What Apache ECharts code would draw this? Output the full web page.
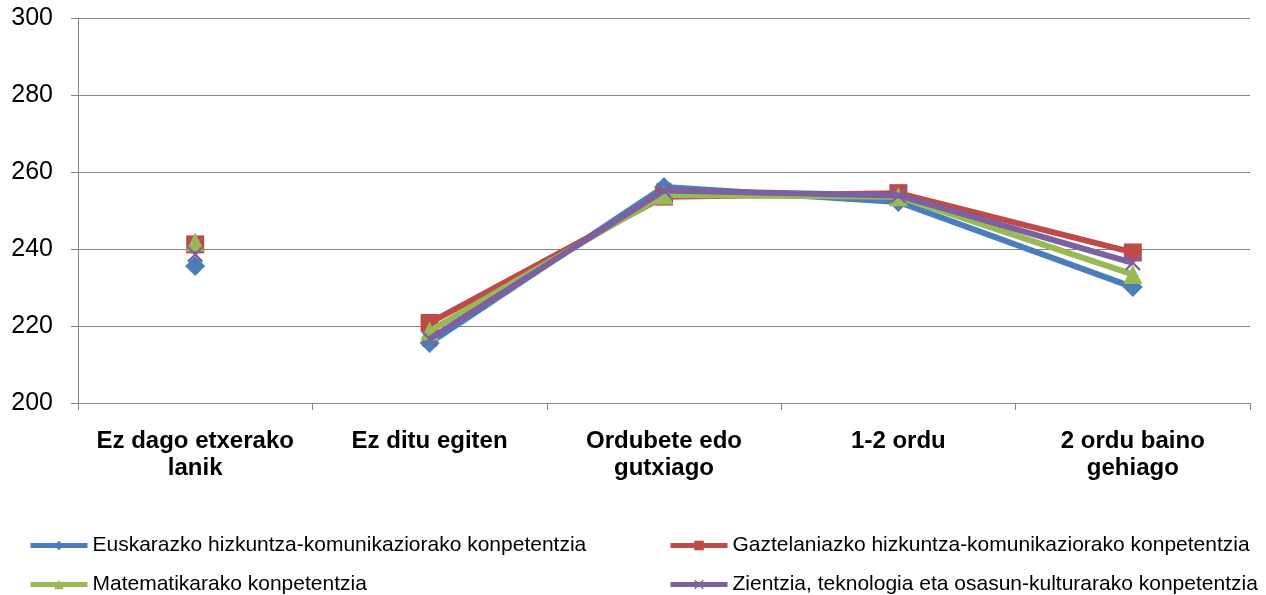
<!DOCTYPE html>
<html>
<head>
<meta charset="utf-8">
<script src="https://cdn.jsdelivr.net/npm/echarts@6/dist/echarts.min.js"></script>
<style>
    html, body { margin: 0; padding: 0; background: #fff; }
    #chart { width: 1266px; height: 595px; }
</style>
</head>
<body>
<div id="chart"></div>
<script>
// kategoriak eta balioak
var categories = ['Ez dago etxerako\nlanik', 'Ez ditu egiten', 'Ordubete edo\ngutxiago', '1-2 ordu', '2 ordu baino\ngehiago'];
var seriesNames = [
    'Euskarazko hizkuntza-komunikaziorako konpetentzia',
    'Gaztelaniazko hizkuntza-komunikaziorako konpetentzia',
    'Matematikarako konpetentzia',
    'Zientzia, teknologia eta osasun-kulturarako konpetentzia'
];
var euskara = [235.6, 215.6, 256.1, 252.2, 230.1];
var gaztelania = [241.2, 220.8, 253.6, 254.5, 239.1];
var matematika = [241.8, 218.7, 254.0, 253.6, 233.4];
var zientzia = [238.6, 216.6, 255.2, 253.9, 236.4];
var yTicks = [200, 220, 240, 260, 280, 300];

(function(){
    var myChart = echarts.init(document.getElementById('chart'));
    var colors = ['#4A7EBB', '#BE4B48', '#98B954', '#7D60A0'];
    var crossPath = 'path://M0,1L1,0L5,4L9,0L10,1L6,5L10,9L9,10L5,6L1,10L0,9L4,5Z';
    var symbols = ['diamond', 'rect', 'triangle', crossPath];
    var sizes = [20, 18, 19, 16];
    var values = [euskara, gaztelania, matematika, zientzia];

    var series = [];
    // lehen kategoria bakarrik (lerrorik gabe)
    values.forEach(function(v, i){
        series.push({
            name: seriesNames[i],
            type: 'line',
            data: [v[0], null, null, null, null],
            symbol: symbols[i],
            symbolSize: sizes[i],
            showAllSymbol: true,
            itemStyle: { color: colors[i] },
            lineStyle: { color: colors[i], width: 6 },
            z: 2 + i
        });
    });
    // gainerako kategoriak lerroarekin
    values.forEach(function(v, i){
        series.push({
            name: seriesNames[i],
            type: 'line',
            data: [null].concat(v.slice(1)),
            symbol: symbols[i],
            symbolSize: sizes[i],
            showAllSymbol: true,
            itemStyle: { color: colors[i] },
            lineStyle: { color: colors[i], width: 6 },
            z: 2 + i
        });
    });

    // legenda: bi zutabe, bi errenkada
    var legendPos = [[28, 535], [668, 535], [28, 574], [668, 574]];
    var legends = seriesNames.map(function(name, k){
        return {
            data: [name],
            left: legendPos[k][0],
            top: legendPos[k][1],
            padding: 0,
            itemWidth: 57,
            itemHeight: 12,
            lineStyle: { width: 5 },
            textStyle: { color: '#000', fontSize: 21, fontFamily: 'Liberation Sans, Arial, sans-serif' }
        };
    });

    var option = {
        animation: false,
        color: colors,
        textStyle: { fontFamily: 'Liberation Sans, Arial, sans-serif' },
        grid: { left: 78, right: 16, top: 18, bottom: 192 },
        legend: legends,
        xAxis: {
            type: 'category',
            data: categories,
            boundaryGap: true,
            axisLine: { lineStyle: { color: '#868686', width: 1 } },
            axisTick: { show: true, length: 7, lineStyle: { color: '#868686' } },
            axisLabel: {
                color: '#000',
                fontSize: 24,
                fontWeight: 'bold',
                lineHeight: 27,
                margin: 25,
                interval: 0
            }
        },
        yAxis: {
            type: 'value',
            min: yTicks[0],
            max: yTicks[yTicks.length - 1],
            interval: 20,
            axisLine: { show: true, lineStyle: { color: '#868686', width: 1 } },
            axisTick: { show: true, length: 7, lineStyle: { color: '#868686' } },
            axisLabel: { color: '#000', fontSize: 25, margin: 25 },
            splitLine: { lineStyle: { color: '#868686', width: 1 } }
        },
        series: series
    };
    myChart.setOption(option);
})();
</script>
</body>
</html>
